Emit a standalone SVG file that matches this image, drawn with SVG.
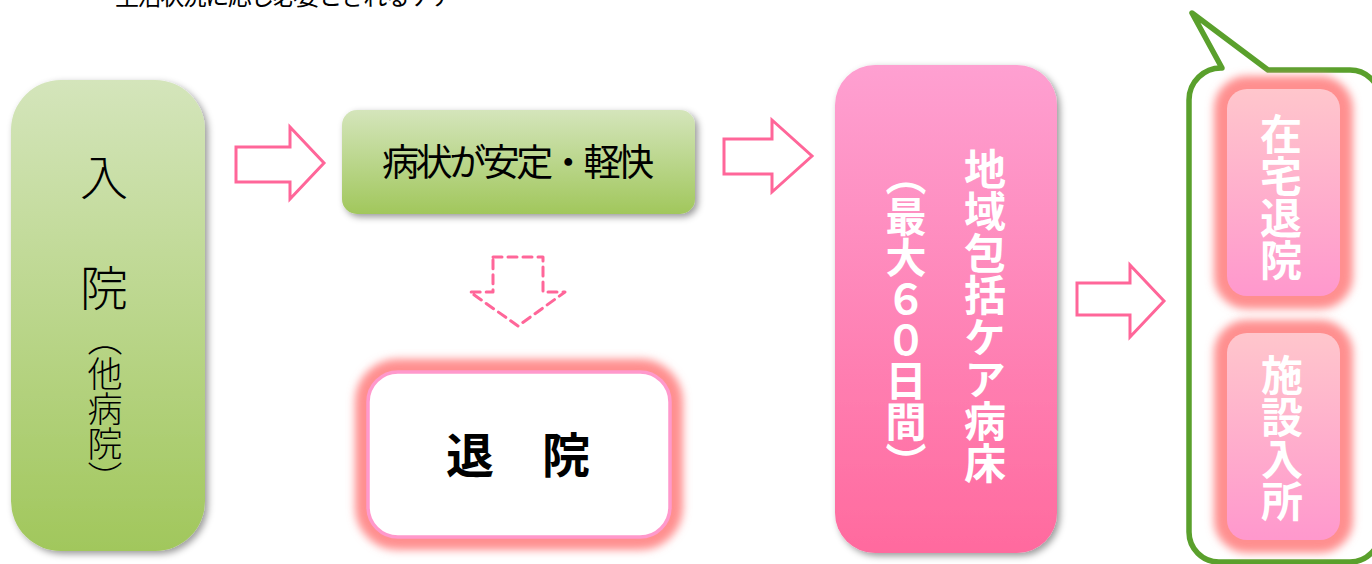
<svg xmlns="http://www.w3.org/2000/svg" width="1372" height="564" viewBox="0 0 1372 564">
<defs>
<linearGradient id="gGreen" x1="0" y1="0" x2="0" y2="1"><stop offset="0" stop-color="#d4e5bb"/><stop offset="1" stop-color="#a1c75c"/></linearGradient>
<linearGradient id="gPink" x1="0" y1="0" x2="0" y2="1"><stop offset="0" stop-color="#fea0d1"/><stop offset="1" stop-color="#ff6a9e"/></linearGradient>
<linearGradient id="gLight" x1="0" y1="0" x2="0" y2="1"><stop offset="0" stop-color="#ffc6cc"/><stop offset="1" stop-color="#ff98cd"/></linearGradient>
<filter id="shadow" x="-20%" y="-20%" width="140%" height="140%"><feDropShadow dx="3" dy="3" stdDeviation="3.5" flood-color="#000" flood-opacity="0.4"/></filter>
<filter id="glow" x="-20%" y="-20%" width="140%" height="140%"><feGaussianBlur stdDeviation="4.5"/></filter>
</defs>
<style>
.jp{font-family:"Noto Sans CJK JP","Noto Sans CJK SC",sans-serif;}
.blk{fill:#000;}
.wht{fill:#fff;font-weight:700;}
.vert{writing-mode:vertical-rl;}
.arrow{fill:#fff;stroke:#ff6699;stroke-width:3;stroke-linejoin:miter;}
.dash{fill:none;stroke:#ff6699;stroke-width:3;stroke-dasharray:9 6;stroke-linejoin:round;stroke-linecap:round;}
.glowr{fill:none;stroke:#ff8f8f;stroke-width:26;}
</style>
<text class="jp blk" x="115" y="5" font-size="24" textLength="340">生活状況に応じ必要とされるケア</text>

<g id="connectors">
<path class="arrow" d="M236,147 H290 V127 L324,163 L290,199 V182 H236 Z"/>
<path class="arrow" d="M724,139 H772 V120 L812,156 L772,192 V174 H724 Z"/>
<path class="arrow" d="M1077,283 H1130 V265 L1164,301 L1130,337 V315 H1077 Z"/>
<path class="dash" d="M493,257 H543 V292 H565 L518,326 L470,292 H493 Z"/>
</g>

<g id="node-nyuin">
<rect x="11" y="80" width="194" height="471" rx="50" fill="url(#gGreen)" filter="url(#shadow)"/>
<text class="jp blk" x="104" y="195" font-size="48" font-weight="300" text-anchor="middle">入</text>
<text class="jp blk" x="104" y="306" font-size="48" font-weight="300" text-anchor="middle">院</text>
<text class="jp blk vert" x="105" y="321" font-size="35" font-weight="300">（他病院）</text>
</g>

<g id="node-antei">
<rect x="342" y="110" width="353" height="104" rx="15" fill="url(#gGreen)" filter="url(#shadow)"/>
<text class="jp blk" x="518" y="176" font-size="37" text-anchor="middle" textLength="272">病状が安定・軽快</text>
</g>

<g id="node-taiin">
<rect class="glowr" x="368" y="372" width="302" height="165" rx="30" filter="url(#glow)"/>
<rect x="368" y="372" width="302" height="165" rx="30" fill="#fff" stroke="#ff99cc" stroke-width="3.5"/>
<text class="jp blk" x="518" y="473" font-size="48" font-weight="700" text-anchor="middle">退　院</text>
</g>

<g id="node-chiiki">
<rect x="835" y="65" width="222" height="488" rx="40" fill="url(#gPink)" filter="url(#shadow)"/>
<text class="jp wht vert" x="985" y="148" font-size="42">地域包括ケア病床</text>
<text class="jp wht vert" x="906" y="155" font-size="41">（最大６０日間）</text>
</g>

<g id="bubble">
<path d="M1222,68 L1192,13 L1268,70 H1350 A30,30 0 0 1 1380,100 V532 A30,30 0 0 1 1350,562 H1219 A30,30 0 0 1 1189,532 V100 A32,32 0 0 1 1222,68 Z" fill="#fff" stroke="#5aa02c" stroke-width="5.5" stroke-linejoin="round"/>
</g>

<g id="node-zaitaku">
<rect class="glowr" x="1227" y="89" width="113" height="207" rx="20" filter="url(#glow)"/>
<rect x="1227" y="89" width="113" height="207" rx="20" fill="url(#gLight)"/>
<text class="jp wht vert" x="1281" y="113" font-size="42">在宅退院</text>
</g>

<g id="node-shisetsu">
<rect class="glowr" x="1227" y="333" width="113" height="207" rx="20" filter="url(#glow)"/>
<rect x="1227" y="333" width="113" height="207" rx="20" fill="url(#gLight)"/>
<text class="jp wht vert" x="1282" y="354" font-size="42">施設入所</text>
</g>
</svg>
